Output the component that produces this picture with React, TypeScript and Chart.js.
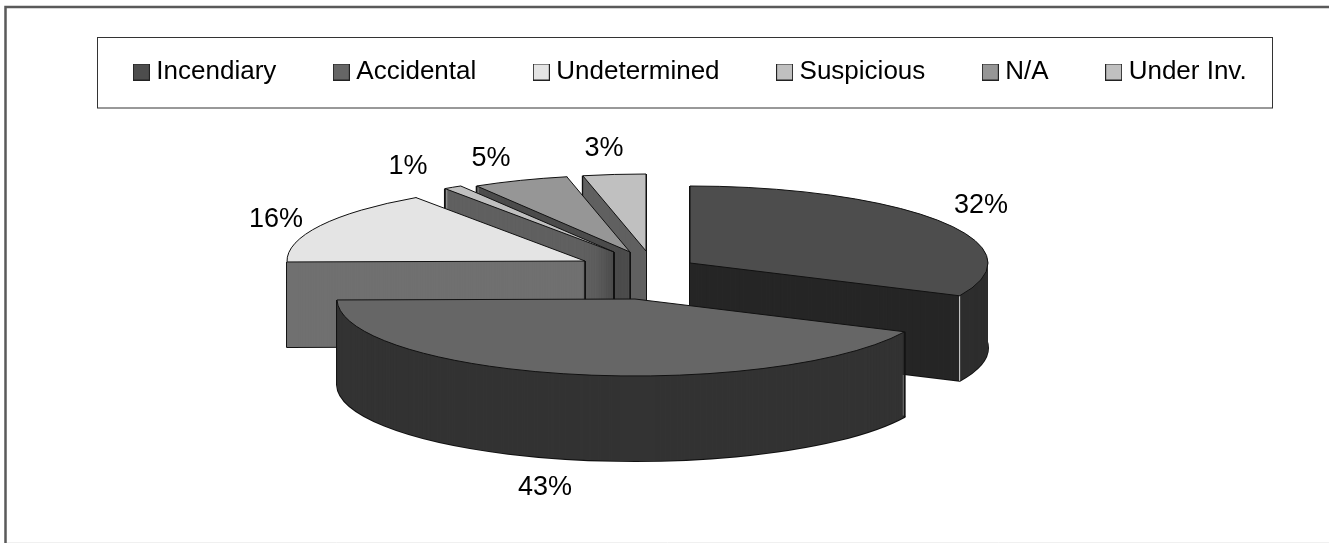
import React, { useEffect, useRef } from "react";
import { Chart, registerables } from "chart.js";

Chart.register(...registerables);

const categories = ["Incendiary", "Accidental", "Undetermined", "Suspicious", "N/A", "Under Inv."];
const shares = [32.0, 42.8, 15.6, 1.0, 5.2, 3.4];
const shareLabels = ["32%", "43%", "16%", "1%", "5%", "3%"];
const topColors = ["#4d4d4d", "#666666", "#e4e4e4", "#c0c0c0", "#969696", "#c0c0c0"];
const sideColors = ["#262626", "#333333", "#707070", "#606060", "#4c4c4c", "#606060"];

// layout of the exploded 3D look
const sliceApex = [[690, 263], [635, 299], [585, 261], [614, 252], [630, 252], [646, 251]];
const labelCentres = [[981, 206], [545, 488], [276, 220], [408, 167], [491, 159], [604, 149]];
const drawOrder = [5, 4, 3, 2, 0, 1];
const RX = 298;
const RY = 77;
const DEPTH = 85;
const FONT = "27px 'Liberation Sans', Arial, sans-serif";

function marker(color: string) {
  const c = document.createElement("canvas");
  c.width = 17;
  c.height = 17;
  const x = c.getContext("2d")!;
  x.fillStyle = color;
  x.fillRect(0.5, 0.5, 16, 16);
  x.strokeStyle = "#222";
  x.lineWidth = 1;
  x.strokeRect(0.5, 0.5, 16, 16);
  return c;
}

const pie3d = {
  id: "pie3d",
  beforeDraw(chart: any) {
    const { ctx } = chart;
    ctx.save();
    ctx.fillStyle = "#fff";
    ctx.fillRect(0, 0, chart.width, chart.height);
    ctx.strokeStyle = "#f0f0f0";
    ctx.lineWidth = 1;
    ctx.beginPath();
    ctx.moveTo(6, 542.5);
    ctx.lineTo(chart.width, 542.5);
    ctx.stroke();
    ctx.strokeStyle = "#5a5a5a";
    ctx.lineWidth = 2.5;
    ctx.beginPath();
    ctx.moveTo(chart.width, 7);
    ctx.lineTo(5.5, 7);
    ctx.lineTo(5.5, chart.height);
    ctx.stroke();
    ctx.strokeStyle = "#333";
    ctx.lineWidth = 1;
    ctx.strokeRect(97.5, 37.5, 1175, 70.5);
    ctx.restore();
    chart.legend.top = -4;
  },
  beforeDatasetsDraw(chart: any) {
    const { ctx } = chart;
    const meta = chart.getDatasetMeta(0);
    const place = (el: any, i: number, dy: number) => {
      const r = el.outerRadius;
      ctx.translate(sliceApex[i][0], sliceApex[i][1] + dy);
      ctx.scale(RX / r, RY / r);
      ctx.translate(-el.x, -el.y);
    };
    const fill = (el: any, i: number, dy: number, color: string) => {
      const saved = el.options;
      el.options = { ...saved, backgroundColor: color, borderWidth: 0 };
      ctx.save();
      place(el, i, dy);
      el.draw(ctx);
      ctx.restore();
      el.options = saved;
    };
    const outline = (el: any, i: number, dy: number, width: number) => {
      ctx.save();
      ctx.save();
      place(el, i, dy);
      ctx.beginPath();
      ctx.moveTo(el.x, el.y);
      ctx.arc(el.x, el.y, el.outerRadius, el.startAngle, el.endAngle);
      ctx.closePath();
      ctx.restore();
      ctx.strokeStyle = "#111";
      ctx.lineWidth = width;
      ctx.lineJoin = "round";
      ctx.stroke();
      ctx.restore();
    };
    const wallEdges = (el: any, i: number) => {
      const [ax, ay] = sliceApex[i];
      const pts = [
        [ax, ay],
        [ax + RX * Math.cos(el.startAngle), ay + RY * Math.sin(el.startAngle)],
        [ax + RX * Math.cos(el.endAngle), ay + RY * Math.sin(el.endAngle)],
      ];
      ctx.save();
      ctx.strokeStyle = "#111";
      ctx.lineWidth = 2;
      ctx.beginPath();
      for (const [x, y] of pts) {
        ctx.moveTo(x, y);
        ctx.lineTo(x, y + DEPTH);
      }
      ctx.stroke();
      ctx.restore();
    };
    for (const i of drawOrder) {
      const el = meta.data[i];
      outline(el, i, DEPTH, 2);
      wallEdges(el, i);
      for (let d = DEPTH; d >= 1; d--) fill(el, i, d, sideColors[i]);
      if (i === 0) {
        // outer wall of the first slice, lighter than its cut face, split by a pale line
        const rimX = sliceApex[i][0] + RX * Math.cos(el.endAngle);
        const rimY = sliceApex[i][1] + RY * Math.sin(el.endAngle);
        ctx.save();
        ctx.beginPath();
        ctx.rect(rimX, 0, chart.width - rimX, chart.height);
        ctx.clip();
        for (let d = DEPTH; d >= 1; d--) fill(el, i, d, "#2e2e2e");
        ctx.restore();
        ctx.save();
        ctx.strokeStyle = "#d8d8d8";
        ctx.lineWidth = 1;
        ctx.beginPath();
        ctx.moveTo(rimX, rimY);
        ctx.lineTo(rimX, rimY + DEPTH);
        ctx.stroke();
        ctx.restore();
      }
      fill(el, i, 0, topColors[i]);
      outline(el, i, 0, 1);
    }
    return false;
  },
  afterDraw(chart: any) {
    const { ctx } = chart;
    ctx.save();
    ctx.font = FONT;
    ctx.fillStyle = "#000";
    ctx.textAlign = "center";
    ctx.textBaseline = "middle";
    shareLabels.forEach((t, i) => ctx.fillText(t, labelCentres[i][0], labelCentres[i][1]));
    ctx.restore();
  },
};

export default function App() {
  const ref = useRef<HTMLCanvasElement>(null);
  useEffect(() => {
    const chart = new Chart(ref.current!, {
      type: "pie",
      data: {
        labels: categories,
        datasets: [{ data: shares, backgroundColor: topColors, borderWidth: 0 }],
      },
      options: {
        responsive: false,
        animation: false,
        layout: { padding: { left: 57, right: 0, top: 0, bottom: 0 } },
        plugins: {
          tooltip: { enabled: false },
          legend: {
            display: true,
            position: "top",
            labels: {
              usePointStyle: true,
              boxWidth: 4,
              padding: 63,
              color: "#000",
              font: { family: "'Liberation Sans', Arial, sans-serif", size: 26 },
              generateLabels: (c: any) =>
                Chart.overrides.pie.plugins.legend.labels
                  .generateLabels(c)
                  .map((it: any, i: number) => ({ ...it, pointStyle: marker(topColors[i]) })),
            },
          },
        },
      },
      plugins: [pie3d],
    } as any);
    return () => chart.destroy();
  }, []);
  return (
    <canvas
      ref={ref}
      width={1329}
      height={543}
      style={{ position: "absolute", left: 0, top: 0, width: 1329, height: 543, display: "block" }}
    />
  );
}
